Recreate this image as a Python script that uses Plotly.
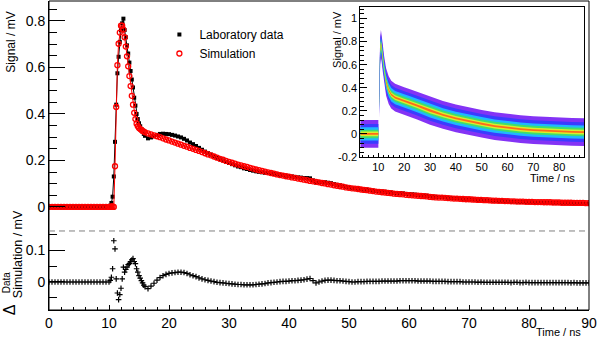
import plotly.graph_objects as go

# sampling grid of the waveforms (ns)
time_ns = ([i * 0.5 for i in range(0, 21)]
           + [round(10.2 + 0.2 * i, 1) for i in range(30)]
           + [i * 0.5 for i in range(33, 181)])

lab_mv = [
    0.0, 0.0, 0.0, 0.0, 0.0, 0.0, 0.0, 0.0, 0.0, 0.0, 0.0,
    0.0, 0.0, 0.0, 0.0, 0.0, 0.0, 0.0, 0.0, 0.0, 0.0,
    0.005, 0.017, 0.044, 0.131, 0.280, 0.440, 0.575, 0.646, 0.710, 0.760,
    0.790, 0.810, 0.761, 0.730, 0.695, 0.660, 0.621, 0.585, 0.548, 0.514,
    0.470, 0.436, 0.400, 0.378, 0.360, 0.347, 0.335, 0.324, 0.314, 0.306,
    0.295, 0.299, 0.304, 0.310, 0.314, 0.315, 0.314, 0.313, 0.310, 0.307,
    0.303, 0.299, 0.293, 0.286, 0.277, 0.270, 0.262, 0.254, 0.246, 0.238,
    0.231, 0.225, 0.218, 0.211, 0.205, 0.200, 0.194, 0.189, 0.184, 0.179,
    0.174, 0.171, 0.166, 0.163, 0.159, 0.156, 0.153, 0.151, 0.149, 0.147,
    0.146, 0.144, 0.142, 0.140, 0.138, 0.137, 0.134, 0.133, 0.131, 0.129,
    0.127, 0.126, 0.124, 0.124, 0.123, 0.114, 0.105, 0.106, 0.106, 0.106,
    0.104, 0.102, 0.098, 0.095, 0.093, 0.090, 0.086, 0.083, 0.080, 0.079,
    0.078, 0.076, 0.074, 0.074, 0.072, 0.070, 0.068, 0.067, 0.066, 0.065,
    0.063, 0.062, 0.060, 0.059, 0.059, 0.058, 0.056, 0.055, 0.054, 0.053,
    0.051, 0.050, 0.049, 0.048, 0.046, 0.044, 0.043, 0.042, 0.042, 0.041,
    0.039, 0.038, 0.037, 0.037, 0.036, 0.034, 0.033, 0.033, 0.032, 0.031,
    0.029, 0.030, 0.028, 0.028, 0.027, 0.026, 0.026, 0.025, 0.025, 0.024,
    0.024, 0.022, 0.023, 0.022, 0.021, 0.021, 0.021, 0.020, 0.020, 0.019,
    0.019, 0.019, 0.018, 0.018, 0.018, 0.017, 0.017, 0.017, 0.016, 0.016,
    0.016, 0.015, 0.015, 0.014, 0.014, 0.014, 0.013, 0.013,
]

sim_mv = [
    0.0, 0.0, 0.0, 0.0, 0.0, 0.0, 0.0, 0.0, 0.0, 0.0, 0.0,
    0.0, 0.0, 0.0, 0.0, 0.0, 0.0, 0.0, 0.0, 0.0, 0.0,
    0.000, 0.002, 0.002, 0.000, 0.175, 0.430, 0.610, 0.702, 0.750, 0.780,
    0.780, 0.763, 0.730, 0.690, 0.648, 0.605, 0.563, 0.520, 0.478, 0.440,
    0.405, 0.378, 0.358, 0.347, 0.340, 0.335, 0.331, 0.327, 0.324, 0.321,
    0.316, 0.312, 0.308, 0.304, 0.300, 0.295, 0.290, 0.286, 0.281, 0.277,
    0.272, 0.268, 0.263, 0.259, 0.254, 0.250, 0.245, 0.241, 0.236, 0.231,
    0.226, 0.222, 0.217, 0.212, 0.207, 0.203, 0.198, 0.194, 0.190, 0.186,
    0.182, 0.179, 0.175, 0.172, 0.168, 0.165, 0.161, 0.158, 0.155, 0.152,
    0.149, 0.146, 0.143, 0.140, 0.137, 0.135, 0.132, 0.130, 0.127, 0.125,
    0.122, 0.120, 0.117, 0.115, 0.112, 0.110, 0.108, 0.106, 0.103, 0.101,
    0.098, 0.096, 0.093, 0.091, 0.089, 0.087, 0.084, 0.082, 0.080, 0.079,
    0.077, 0.075, 0.073, 0.072, 0.070, 0.068, 0.066, 0.065, 0.063, 0.062,
    0.060, 0.059, 0.057, 0.056, 0.055, 0.054, 0.052, 0.051, 0.050, 0.049,
    0.048, 0.047, 0.046, 0.045, 0.043, 0.042, 0.041, 0.040, 0.040, 0.039,
    0.038, 0.037, 0.036, 0.036, 0.035, 0.034, 0.033, 0.033, 0.032, 0.031,
    0.030, 0.030, 0.029, 0.029, 0.028, 0.027, 0.027, 0.026, 0.026, 0.025,
    0.025, 0.024, 0.024, 0.023, 0.023, 0.023, 0.022, 0.022, 0.022, 0.021,
    0.021, 0.021, 0.020, 0.020, 0.020, 0.019, 0.019, 0.019, 0.018, 0.018,
    0.018, 0.018, 0.017, 0.017, 0.017, 0.017, 0.016, 0.016,
]

diff_mv = [
    0.0, 0.0, 0.0, 0.0, 0.0, 0.0, 0.0, 0.0, 0.0, 0.0, 0.0,
    0.0, 0.0, 0.0, 0.0, 0.0, 0.0, 0.0, 0.0, 0.0, 0.0,
    0.005, 0.015, 0.042, 0.131, 0.105, 0.010, -0.035, -0.056, -0.040, -0.020,
    0.010, 0.047, 0.031, 0.040, 0.047, 0.055, 0.058, 0.065, 0.070, 0.074,
    0.065, 0.058, 0.042, 0.031, 0.020, 0.012, 0.004, -0.003, -0.010, -0.015,
    -0.021, -0.013, -0.004, 0.006, 0.014, 0.020, 0.024, 0.027, 0.029, 0.030,
    0.031, 0.031, 0.030, 0.027, 0.023, 0.020, 0.017, 0.013, 0.010, 0.007,
    0.005, 0.003, 0.001, -0.001, -0.002, -0.003, -0.004, -0.005, -0.006, -0.007,
    -0.008, -0.008, -0.009, -0.009, -0.009, -0.009, -0.008, -0.007, -0.006, -0.005,
    -0.003, -0.002, -0.001, 0.000, 0.001, 0.002, 0.002, 0.003, 0.004, 0.004,
    0.005, 0.006, 0.007, 0.009, 0.011, 0.004, -0.003, 0.000, 0.003, 0.005,
    0.006, 0.006, 0.005, 0.004, 0.004, 0.003, 0.002, 0.001, 0.000, 0.000,
    0.001, 0.001, 0.001, 0.002, 0.002, 0.002, 0.002, 0.002, 0.003, 0.003,
    0.003, 0.003, 0.003, 0.003, 0.004, 0.004, 0.004, 0.004, 0.004, 0.004,
    0.003, 0.003, 0.003, 0.003, 0.003, 0.002, 0.002, 0.002, 0.002, 0.002,
    0.001, 0.001, 0.001, 0.001, 0.001, 0.000, 0.000, 0.000, 0.000, 0.000,
    -0.001, 0.000, -0.001, -0.001, -0.001, -0.001, -0.001, -0.001, -0.001, -0.001,
    -0.001, -0.002, -0.001, -0.001, -0.002, -0.002, -0.001, -0.002, -0.002, -0.002,
    -0.002, -0.002, -0.002, -0.002, -0.002, -0.002, -0.002, -0.002, -0.002, -0.002,
    -0.002, -0.003, -0.002, -0.003, -0.003, -0.003, -0.003, -0.003,
]

# inset: persistence band of many waveforms (mean curve + band half widths)
inset_base_t = [3.0, 10.0]
inset_base_mean = [0.0, 0.0]
inset_pulse_t = [10.3, 10.5, 10.7, 11.0, 11.3, 11.7, 12.2, 13.0, 14.0, 15.0,
                 16.5, 18.0, 20.0, 22.0, 25.0, 30.0, 35.0, 40.0, 45.0, 50.0,
                 55.0, 60.0, 65.0, 70.0, 75.0, 80.0, 85.0, 89.6]
inset_pulse_mean = [0.25, 0.55, 0.72, 0.78, 0.74, 0.66, 0.56, 0.45, 0.38, 0.34,
                    0.315, 0.30, 0.285, 0.27, 0.245, 0.20, 0.165, 0.135, 0.11, 0.088,
                    0.068, 0.052, 0.042, 0.033, 0.026, 0.021, 0.018, 0.016]
band_halfwidth = [0.12, 0.085, 0.058, 0.037, 0.02, 0.008]
band_colors = ['#8433f5', '#3a3cff', '#1fb8ff', '#3ddf6e', '#d9ee2a', '#ff6a1a']

assert len(time_ns) == len(lab_mv) == len(sim_mv) == len(diff_mv)

W, H = 598, 339
ML, MR, MT, MB = 49, 6, 1, 29
PW, PH = W - ML - MR, H - MT - MB


def px(x):
    return (x - ML) / PW


def py(y):
    return (H - MB - y) / PH


FONT = 'Liberation Sans, Arial, sans-serif'
split = py(219)

fig = go.Figure()

# inset bands
for hw, col in zip(band_halfwidth, band_colors):
    xs, ys = [], []
    for tt, mm in ((inset_base_t, inset_base_mean), (inset_pulse_t, inset_pulse_mean)):
        if xs:
            xs.append(None)
            ys.append(None)
        xs += tt + tt[::-1]
        ys += [m + hw for m in mm] + [m - hw for m in mm[::-1]]
    fig.add_trace(go.Scatter(x=xs, y=ys, xaxis='x3', yaxis='y3', mode='lines',
                             fill='toself', fillcolor=col, line=dict(width=0),
                             showlegend=False, hoverinfo='skip'))

# main panel
fig.add_trace(go.Scatter(x=time_ns, y=lab_mv, xaxis='x2', yaxis='y2', mode='lines',
                         line=dict(color='black', width=1), showlegend=False))
fig.add_trace(go.Scatter(x=time_ns, y=lab_mv, xaxis='x2', yaxis='y2', mode='markers',
                         marker=dict(symbol='square', size=4, color='black'),
                         name='Laboratory data'))
fig.add_trace(go.Scatter(x=time_ns, y=sim_mv, xaxis='x2', yaxis='y2', mode='lines',
                         line=dict(color='red', width=1), showlegend=False))
fig.add_trace(go.Scatter(x=time_ns, y=sim_mv, xaxis='x2', yaxis='y2', mode='markers',
                         marker=dict(symbol='circle-open', size=5, color='red',
                                     line=dict(width=1.3, color='red')),
                         name='Simulation'))

# residual panel
fig.add_trace(go.Scatter(x=time_ns, y=diff_mv, xaxis='x', yaxis='y', mode='markers',
                         marker=dict(symbol='cross-thin', size=4,
                                     line=dict(width=1.2, color='black')),
                         showlegend=False))

tick_font = dict(family=FONT, size=14, color='black')
small_font = dict(family=FONT, size=11, color='black')

fig.update_layout(
    width=W, height=H,
    margin=dict(l=ML, r=MR, t=MT, b=MB),
    paper_bgcolor='white', plot_bgcolor='white',
    font=dict(family=FONT, color='black'),
    showlegend=True,
    legend=dict(x=px(160), y=py(20), xanchor='left', yanchor='top',
                bgcolor='rgba(0,0,0,0)', font=dict(family=FONT, size=12),
                itemwidth=30, tracegroupgap=0),
    xaxis=dict(domain=[0, 1], anchor='y', range=[0, 90], dtick=10, tick0=0,
               ticks='inside', ticklen=5, tickcolor='black', ticklabeloverflow='allow',
               minor=dict(dtick=2, tick0=0, ticks='inside', ticklen=3, tickcolor='black'),
               showline=True, linecolor='black', linewidth=1, showgrid=False,
               zeroline=False, tickfont=tick_font),
    yaxis=dict(domain=[0, split], anchor='x', range=[-0.089, 0.2],
               tickvals=[0, 0.1], ticktext=['0', '0.1'],
               ticks='inside', ticklen=16, tickcolor='black',
               minor=dict(dtick=0.05, tick0=0, ticks='inside', ticklen=8, tickcolor='black'),
               showline=True, linecolor='black', linewidth=1, showgrid=False,
               zeroline=False, tickfont=tick_font),
    xaxis2=dict(domain=[0, 1], anchor='y2', matches='x', showticklabels=False,
                ticks='', showline=False, showgrid=False, zeroline=False),
    yaxis2=dict(domain=[split, 1], anchor='x2', range=[-0.052, 0.886],
                dtick=0.2, tick0=0,
                ticks='inside', ticklen=16, tickcolor='black',
                minor=dict(dtick=0.05, tick0=0, ticks='inside', ticklen=8, tickcolor='black'),
                showline=True, linecolor='black', linewidth=1, showgrid=False,
                zeroline=False, tickfont=tick_font),
    xaxis3=dict(domain=[px(362), px(587)], anchor='y3', range=[3, 89.6],
                dtick=10, tick0=0, ticks='inside', ticklen=4, tickcolor='black',
                minor=dict(dtick=2, tick0=0, ticks='inside', ticklen=2, tickcolor='black'),
                showline=True, mirror=True, linecolor='black', linewidth=1,
                showgrid=False, zeroline=False, tickfont=small_font),
    yaxis3=dict(domain=[py(157), py(7)], anchor='x3', range=[-0.2, 1.1],
                tickvals=[-0.2, 0, 0.2, 0.4, 0.6, 0.8, 1.0],
                ticktext=['-0.2', '0', '0.2', '0.4', '0.6', '0.8', '1'],
                ticks='inside', ticklen=7, tickcolor='black',
                minor=dict(dtick=0.04, tick0=0, ticks='inside', ticklen=4, tickcolor='black'),
                showline=True, mirror=True, linecolor='black', linewidth=1,
                showgrid=False, zeroline=False, tickfont=small_font),
)

# frame and dashed reference line
fig.add_shape(type='rect', xref='paper', yref='paper', x0=0, x1=1, y0=0, y1=1,
              line=dict(color='black', width=1), layer='above')
fig.add_shape(type='line', xref='x', yref='y', x0=0, x1=90, y0=0.162, y1=0.162,
              line=dict(color='#808080', width=1, dash='6px,4px'))

# axis titles
fig.add_annotation(text='Signal / mV', xref='paper', yref='paper', x=px(10), y=py(10),
                   xanchor='center', yanchor='top', textangle=-90, showarrow=False,
                   font=dict(family=FONT, size=12))
fig.add_annotation(text='Time / ns', xref='paper', yref='paper', x=px(586), y=py(332),
                   xanchor='right', yanchor='middle', showarrow=False,
                   font=dict(family=FONT, size=11))
fig.add_annotation(text='Signal / mV', xref='paper', yref='paper', x=px(338), y=py(9),
                   xanchor='center', yanchor='top', textangle=-90, showarrow=False,
                   font=small_font)
fig.add_annotation(text='Time / ns', xref='paper', yref='paper', x=px(580), y=py(178),
                   xanchor='right', yanchor='middle', showarrow=False, font=small_font)
fig.add_annotation(text='Δ', xref='paper', yref='paper', x=px(9), y=py(310),
                   xanchor='center', yanchor='middle', textangle=-90, showarrow=False,
                   font=dict(family=FONT, size=16))
fig.add_annotation(text='Data', xref='paper', yref='paper', x=px(6), y=py(282),
                   xanchor='center', yanchor='middle', textangle=-90, showarrow=False,
                   font=dict(family=FONT, size=10))
fig.add_annotation(text='Simulation / mV', xref='paper', yref='paper', x=px(18), y=py(300),
                   xanchor='center', yanchor='bottom', textangle=-90, showarrow=False,
                   font=dict(family=FONT, size=12.5))

fig.write_html('out.html', config={'displayModeBar': False},
               post_script="document.body.style.margin='0px';")
